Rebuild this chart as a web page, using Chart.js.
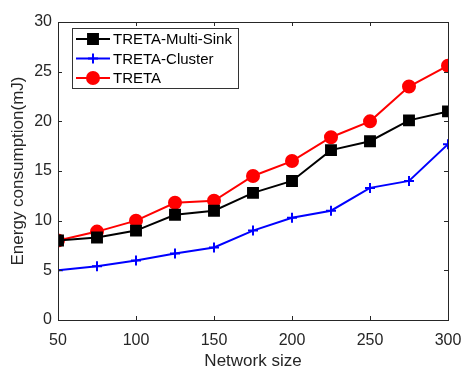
<!DOCTYPE html>
<html>
<head>
<meta charset="utf-8">
<script src="https://cdn.jsdelivr.net/npm/chart.js@4/dist/chart.umd.min.js"></script>
<style>
  html, body { margin: 0; padding: 0; background: #fff; }
  #wrap { width: 462px; height: 372px; }
</style>
</head>
<body>
<div id="wrap"><canvas id="energyChart" width="462" height="372"></canvas></div>
<script>
const networkSize = [50, 75, 100, 125, 150, 175, 200, 225, 250, 275, 300];
const multiSink = [8.0, 8.3, 9.0, 10.6, 11.0, 12.8, 14.0, 17.1, 18.0, 20.1, 21.0];
const cluster = [5.0, 5.4, 6.0, 6.7, 7.3, 9.0, 10.3, 11.0, 13.3, 14.0, 17.7];
const treta = [8.0, 8.9, 10.0, 11.8, 12.0, 14.5, 16.0, 18.4, 20.0, 23.5, 25.6];
const xTicks = [50, 100, 150, 200, 250, 300];
const yTicks = [0, 5, 10, 15, 20, 25, 30];

const axisColor = "#262626";
const fontFamily = "'Liberation Sans', Arial, sans-serif";

const toPoints = (vals) => vals.map((v, i) => ({ x: networkSize[i], y: v }));

// series styles: [label, values, colour, pointStyle, radius]
const series = [
  ["TRETA-Multi-Sink", multiSink, "#000000", "rect", 7],
  ["TRETA-Cluster", cluster, "#0000ff", "cross", 5],
  ["TRETA", treta, "#ff0000", "circle", 6],
];

// box around the plot, inward ticks and the legend
const frame = {
  id: "frame",
  afterDraw(chart) {
    const { ctx, chartArea: a, scales } = chart;
    ctx.save();
    ctx.strokeStyle = axisColor;
    ctx.lineWidth = 1;
    ctx.strokeRect(a.left + 0.5, a.top + 0.5, a.right - a.left, a.bottom - a.top);
    ctx.beginPath();
    xTicks.forEach(t => {
      const px = Math.round(scales.x.getPixelForValue(t)) + 0.5;
      ctx.moveTo(px, a.bottom); ctx.lineTo(px, a.bottom - 4);
      ctx.moveTo(px, a.top); ctx.lineTo(px, a.top + 4);
    });
    yTicks.forEach(t => {
      const py = Math.round(scales.y.getPixelForValue(t)) + 0.5;
      ctx.moveTo(a.left, py); ctx.lineTo(a.left + 4, py);
      ctx.moveTo(a.right, py); ctx.lineTo(a.right - 4, py);
    });
    ctx.stroke();

    // legend
    const lx = 72, ly = 28, lw = 166, lh = 60;
    ctx.fillStyle = "#fff";
    ctx.fillRect(lx, ly, lw, lh);
    ctx.strokeStyle = "#333";
    ctx.strokeRect(lx + 0.5, ly + 0.5, lw, lh);
    ctx.font = "15px " + fontFamily;
    ctx.textBaseline = "middle";
    series.forEach((s, i) => {
      const yy = ly + 11 + i * 19.5;
      ctx.strokeStyle = s[2];
      ctx.fillStyle = s[2];
      ctx.lineWidth = 2;
      ctx.beginPath();
      ctx.moveTo(lx + 4, yy); ctx.lineTo(lx + 38, yy);
      ctx.stroke();
      Chart.helpers.drawPoint(ctx, { pointStyle: s[3], radius: s[4], borderWidth: 2, rotation: 0 }, lx + 21, yy);
      ctx.fillStyle = "#000";
      ctx.fillText(s[0], lx + 41, yy + 1);
    });
    ctx.restore();
  }
};

new Chart(document.getElementById("energyChart").getContext("2d"), {
  type: "scatter",
  data: {
    datasets: series.map(s => ({
      label: s[0],
      data: toPoints(s[1]),
      showLine: true,
      borderColor: s[2],
      backgroundColor: s[2],
      borderWidth: 2,
      pointStyle: s[3],
      pointRadius: s[4],
      pointBorderWidth: 2,
      tension: 0
    }))
  },
  options: {
    responsive: false,
    animation: false,
    layout: { padding: { top: 22, right: 14, left: 0, bottom: 0 } },
    plugins: { legend: { display: false }, tooltip: { enabled: false } },
    scales: {
      x: {
        type: "linear", min: 50, max: 300,
        afterBuildTicks: (s) => { s.ticks = xTicks.map(v => ({ value: v })); },
        afterFit: (s) => { s.height = 52; s.paddingLeft = 0; s.paddingRight = 0; },
        grid: { drawOnChartArea: false, drawTicks: false },
        border: { color: axisColor },
        ticks: { color: axisColor, padding: 11, font: { size: 16, family: fontFamily } },
        title: { display: true, text: "Network size", color: axisColor, padding: { top: 0, bottom: 0 },
                 font: { size: 17, family: fontFamily } }
      },
      y: {
        min: 0, max: 30,
        afterBuildTicks: (s) => { s.ticks = yTicks.map(v => ({ value: v })); },
        afterFit: (s) => { s.width = 58; s.paddingTop = 0; s.paddingBottom = 0; },
        grid: { drawOnChartArea: false, drawTicks: false },
        border: { color: axisColor },
        ticks: { color: axisColor, padding: 6, font: { size: 16, family: fontFamily } },
        title: { display: true, text: "Energy consumption(mJ)", color: axisColor, padding: { top: 8, bottom: 0 },
                 font: { size: 17, family: fontFamily } }
      }
    }
  },
  plugins: [frame]
});
</script>
</body>
</html>
